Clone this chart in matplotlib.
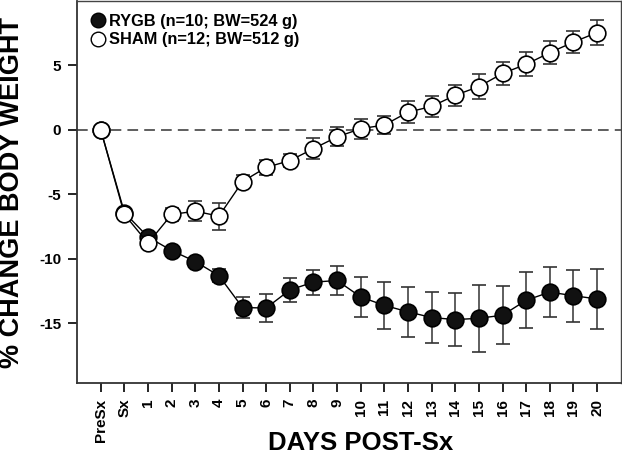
import matplotlib.pyplot as plt
from matplotlib.lines import Line2D
import numpy as np

plt.rcParams['font.family'] = ['Liberation Sans', 'DejaVu Sans']
plt.rcParams['font.weight'] = 'bold'
plt.rcParams['axes.unicode_minus'] = False

days = ['PreSx', 'Sx'] + [str(d) for d in range(1, 21)]

rygb = [0, -6.4, -8.3, -9.35, -10.2, -11.3, -13.77, -13.8, -12.4, -11.8, -11.67,
        -12.95, -13.6, -14.1, -14.54, -14.7, -14.6, -14.36, -13.2, -12.57, -12.85, -13.1]
rygb_err = [0, 0.2, 0.3, 0.2, 0.25, 0.5, 0.82, 1.1, 0.92, 0.96, 1.09,
            1.54, 1.8, 1.93, 1.97, 2.07, 2.6, 2.25, 2.15, 1.93, 2.0, 2.32]

sham = [0, -6.55, -8.78, -6.55, -6.3, -6.68, -4.0, -2.9, -2.38, -1.45, -0.54,
        0.1, 0.38, 1.38, 1.82, 2.69, 3.36, 4.38, 5.09, 5.99, 6.81, 7.55]
sham_err = [0, 0.2, 0.4, 0.5, 0.77, 1.05, 0.5, 0.6, 0.5, 0.8, 0.73,
            0.78, 0.68, 0.85, 0.79, 0.82, 0.97, 0.9, 0.92, 0.9, 0.88, 0.97]

labels = ['RYGB (n=10; BW=524 g)', 'SHAM (n=12; BW=512 g)']

x = np.arange(len(days))

fig = plt.figure(figsize=(6.22, 4.59), dpi=100)
ax = fig.add_axes([0.124, 0.166, 0.874, 0.832])

ax.axhline(0, color='#333333', lw=1.1, ls=(0, (7, 4)), zorder=1)

ax.errorbar(x, rygb, yerr=rygb_err, fmt='o-', color='black', ecolor='#333333',
            mfc='#111111', mec='black', mew=1.2, ms=12, lw=1, elinewidth=1.1,
            capsize=5, capthick=1.1, zorder=2)
ax.errorbar(x, sham, yerr=sham_err, fmt='o-', color='black', ecolor='#333333',
            mfc='white', mec='black', mew=1.2, ms=12, lw=1, elinewidth=1.1,
            capsize=5, capthick=1.1, zorder=3)

ax.set_xlim(-1, 22)
ax.set_ylim(-19.6, 10)
ax.set_yticks([-15, -10, -5, 0, 5])
ax.set_xticks(x)
ax.set_xticklabels(days, rotation=90)
ax.tick_params(direction='out', length=6.5, width=1.2, labelsize=11, pad=5)
for s in ['left', 'bottom']:
    ax.spines[s].set_linewidth(1.3)
    ax.spines[s].set_color('#333333')
for s in ['top', 'right']:
    ax.spines[s].set_linewidth(1.0)
    ax.spines[s].set_color('#444444')

fig.text(0.579, 0.035, 'DAYS POST-Sx', fontsize=18.5, fontweight='bold',
         ha='center', va='center')
fig.text(0.019, 0.58, '% CHANGE BODY WEIGHT', fontsize=19.5, fontweight='bold',
         ha='center', va='center', rotation=90)

handles = [Line2D([], [], ls='', marker='o', ms=10.5, mfc='#111111', mec='black'),
           Line2D([], [], ls='', marker='o', ms=10.5, mfc='white', mec='black')]
ax.legend(handles, labels, loc='upper left', frameon=False, fontsize=11.8,
          handletextpad=0.15, borderaxespad=0.5, handlelength=1.0,
          labelspacing=0.2, borderpad=0.3)

fig.savefig('out.png', dpi=100)
